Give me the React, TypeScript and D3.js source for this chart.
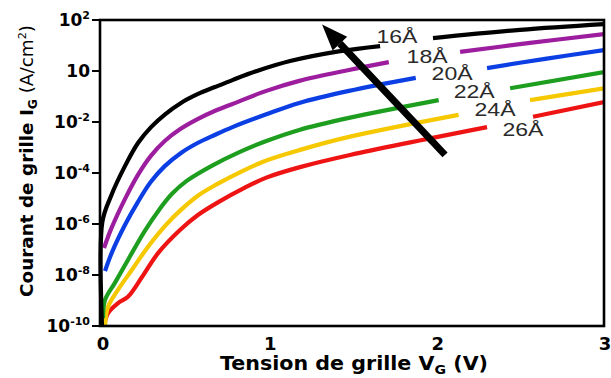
import React from "react";
import * as d3 from "d3";

// Gate current density vs gate voltage for several oxide thicknesses.
// NaN entries break a curve where its thickness label sits.
const THICKNESS_LABELS = ["16Å", "18Å", "20Å", "22Å", "24Å", "26Å"];

const V_16 = [0, 0.002, 0.054, 0.137, 0.215, 0.293, 0.377, 0.472, 0.574, 0.675, 0.783, 0.926, 1.124, 1.423, 1.662, NaN, 1.978, 2.498, 3.0];
const I_16 = [1e-10, 1.2e-6, 1.26e-5, 1.86e-4, 1.5e-3, 6.3e-3, 2.0e-2, 5.6e-2, 0.126, 0.235, 0.45, 1.0, 2.45, 6.0, 9.5, NaN, 19.5, 41, 69];

const V_18 = [0.012, 0.054, 0.137, 0.214, 0.292, 0.375, 0.47, 0.571, 0.673, 0.78, 0.982, 1.179, 1.476, 1.714, NaN, 2.14, 2.558, 3.0];
const I_18 = [1.15e-7, 6.3e-7, 9.5e-6, 8.3e-5, 4.7e-4, 1.8e-3, 5.4e-3, 1.3e-2, 2.7e-2, 5.1e-2, 0.166, 0.41, 1.1, 2.24, NaN, 5.6, 12.6, 28];

const V_20 = [0.018, 0.06, 0.137, 0.214, 0.292, 0.375, 0.47, 0.571, 0.673, 0.78, 0.982, 1.179, 1.476, 1.875, NaN, 2.301, 2.648, 3.0];
const I_20 = [1.44e-8, 7.9e-8, 9.1e-7, 7.2e-6, 4.5e-5, 1.86e-4, 6.0e-4, 1.5e-3, 3.1e-3, 6.3e-3, 2.0e-2, 5.6e-2, 0.166, 0.54, NaN, 1.3, 3.0, 6.6];

const V_22 = [0.006, 0.018, 0.077, 0.155, 0.256, 0.345, 0.417, 0.506, 0.661, 0.821, 0.982, 1.179, 1.476, 2.012, NaN, 2.439, 3.0];
const I_22 = [2e-10, 1.05e-9, 4.9e-9, 3.9e-8, 5.4e-7, 3.9e-6, 1.5e-5, 4.9e-5, 2.0e-4, 6.6e-4, 1.8e-3, 4.9e-3, 1.45e-2, 7.2e-2, NaN, 0.21, 0.91];

const V_24 = [0.018, 0.036, 0.095, 0.179, 0.274, 0.381, 0.47, 0.571, 0.679, 0.851, 0.982, 1.179, 1.476, 2.131, NaN, 2.558, 3.0];
const I_24 = [1e-10, 5.6e-10, 2.6e-9, 1.6e-8, 1.26e-7, 9.1e-7, 3.5e-6, 1.26e-5, 3.4e-5, 1.3e-4, 3.1e-4, 7.9e-4, 2.6e-3, 1.9e-2, NaN, 7.2e-2, 0.21];

const V_26 = [0.012, 0.036, 0.096, 0.155, 0.239, 0.335, 0.466, 0.571, 0.69, 0.851, 0.982, 1.183, 1.482, 2.301, NaN, 2.576, 3.0];
const I_26 = [1.0e-10, 3.2e-10, 7.9e-10, 1.4e-9, 8.3e-9, 7.2e-8, 5.8e-7, 2.2e-6, 6.9e-6, 2.6e-5, 6.6e-5, 1.7e-4, 5.1e-4, 6.3e-3, NaN, 1.6e-2, 6.0e-2];

// Where each thickness label is anchored (volts, A/cm²)
const LABEL_V = [1.763, 1.943, 2.092, 2.224, 2.349, 2.516];
const LABEL_I = [23, 3.9, 0.83, 0.166, 0.032, 0.0054];

// Trend arrow: from thick oxide toward thin oxide
const ARROW_V = [2.05, 1.315];
const ARROW_I = [5.1e-4, 66];

const X_TICKS = [0, 1, 2, 3];
const Y_TICKS = [1e2, 1, 1e-2, 1e-4, 1e-6, 1e-8, 1e-10];
const Y_TICK_SUP = ["2", "", "-2", "-4", "-6", "-8", "-10"];

const COLORS = ["#000000", "#9c1d9e", "#0b3fe4", "#1e9e1e", "#f6c800", "#ee1414"];

const W = 611;
const H = 378;
const LEFT = 100;
const RIGHT = 604;
const TOP = 20;
const BOTTOM = 326;

export default function App() {
  const x = d3.scaleLinear().domain([-0.012, 3]).range([LEFT, RIGHT]);
  const y = d3.scaleLog().domain([1e-10, 1e2]).range([BOTTOM, TOP]);

  const seriesV = [V_16, V_18, V_20, V_22, V_24, V_26];
  const seriesI = [I_16, I_18, I_20, I_22, I_24, I_26];

  const line = d3
    .line<[number, number]>()
    .defined((d) => !isNaN(d[0]) && !isNaN(d[1]))
    .x((d) => x(d[0]))
    .y((d) => y(d[1]))
    .curve(d3.curveCatmullRom.alpha(0.5));

  const paths = seriesV.map((vs, k) =>
    line(vs.map((v, j) => [v, seriesI[k][j]] as [number, number]))
  );
  // draw thickest first so the 16Å trace sits on top
  const order = [5, 4, 3, 2, 1, 0];

  // arrow geometry
  const ax0 = x(ARROW_V[0]);
  const ay0 = y(ARROW_I[0]);
  const ax1 = x(ARROW_V[1]);
  const ay1 = y(ARROW_I[1]);
  const len = Math.hypot(ax1 - ax0, ay1 - ay0);
  const ux = (ax1 - ax0) / len;
  const uy = (ay1 - ay0) / len;
  const headLen = 26;
  const headHalf = 10;
  const bx = ax1 - ux * headLen;
  const by = ay1 - uy * headLen;
  const head = [
    [ax1, ay1],
    [bx - uy * headHalf, by + ux * headHalf],
    [bx + uy * headHalf, by - ux * headHalf],
  ]
    .map((p) => p.join(","))
    .join(" ");

  const font = "'DejaVu Sans', Arial, sans-serif";
  const labelFont = "'Liberation Sans', Arial, sans-serif";

  return (
    <svg
      width={W}
      height={H}
      style={{ position: "absolute", left: 0, top: 0, background: "#fff" }}
      fontFamily={font}
    >
      <defs>
        <clipPath id="plot-area">
          <rect x={LEFT - 4} y={TOP} width={RIGHT - LEFT + 4} height={BOTTOM - TOP + 2} />
        </clipPath>
      </defs>
      <rect x={0} y={0} width={W} height={H} fill="#fff" />

      <g clipPath="url(#plot-area)">
        {order.map((k) => (
          <path
            key={k}
            d={paths[k] || ""}
            fill="none"
            stroke={COLORS[k]}
            strokeWidth={4.2}
            strokeLinejoin="round"
            strokeLinecap="butt"
          />
        ))}
      </g>

      {/* thickness labels */}
      {THICKNESS_LABELS.map((t, k) => (
        <text
          key={t}
          x={x(LABEL_V[k])}
          y={y(LABEL_I[k]) + 7}
          textAnchor="middle"
          fontFamily={labelFont}
          fontSize={19}
          fill="#2a2a2a"
          textLength={41}
          lengthAdjust="spacingAndGlyphs"
        >
          {t}
        </text>
      ))}

      {/* arrow */}
      <line x1={ax0} y1={ay0} x2={bx} y2={by} stroke="#000" strokeWidth={7} />
      <polygon points={head} fill="#000" />

      {/* frame */}
      <rect
        x={LEFT}
        y={TOP}
        width={RIGHT - LEFT}
        height={BOTTOM - TOP}
        fill="none"
        stroke="#000"
        strokeWidth={2.6}
      />

      {/* y ticks */}
      {Y_TICKS.map((t, i) => (
        <g key={t}>
          <line x1={LEFT - 8} x2={LEFT} y1={y(t)} y2={y(t)} stroke="#000" strokeWidth={2} />
          <text
            x={LEFT - 10}
            y={y(t) + 6}
            textAnchor="end"
            fontSize={17}
            fontWeight="bold"
            fill="#000"
          >
            10
            {Y_TICK_SUP[i] !== "" && (
              <tspan fontSize={11} dy={-7}>
                {Y_TICK_SUP[i]}
              </tspan>
            )}
          </text>
        </g>
      ))}

      {/* x tick labels */}
      {X_TICKS.map((t) => (
        <text
          key={t}
          x={x(t) + 1}
          y={350}
          textAnchor="middle"
          fontSize={18}
          fontWeight="bold"
          fill="#000"
        >
          {t}
        </text>
      ))}

      {/* axis titles */}
      <text
        x={354}
        y={370}
        textAnchor="middle"
        fontSize={19}
        fontWeight="bold"
        fill="#000"
        textLength={268}
        lengthAdjust="spacingAndGlyphs"
      >
        Tension de grille V
        <tspan fontSize={13} dy={4}>G</tspan>
        <tspan dy={-4}> (V)</tspan>
      </text>

      <text
        transform="translate(33,161) rotate(-90)"
        textAnchor="middle"
        fontSize={18}
        fontWeight="bold"
        fill="#000"
        textLength={272}
        lengthAdjust="spacingAndGlyphs"
      >
        Courant de grille I
        <tspan fontSize={12} dy={4}>G</tspan>
        <tspan dy={-4} fontWeight="normal"> (A/cm</tspan>
        <tspan fontWeight="normal" fontSize={11} dy={-7}>2</tspan>
        <tspan fontWeight="normal" dy={7}>)</tspan>
      </text>
    </svg>
  );
}
